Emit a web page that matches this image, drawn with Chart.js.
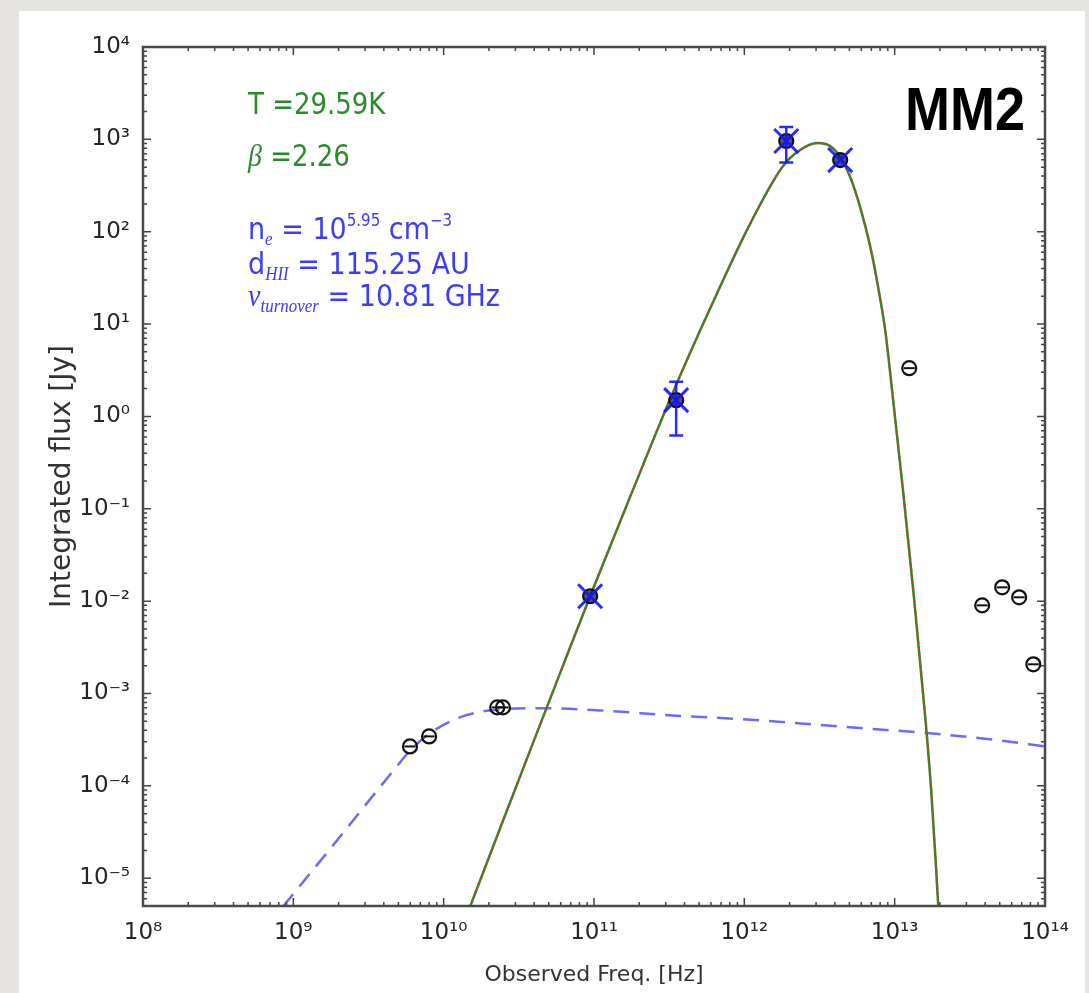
<!DOCTYPE html>
<html>
<head>
<meta charset="utf-8">
<script src="https://cdn.jsdelivr.net/npm/chart.js@4.4.1/dist/chart.umd.min.js"></script>
<style>
html, body { margin: 0; padding: 0; background: #e4e3df; }
#panel { position: absolute; left: 19px; top: 11px; width: 1066px; height: 982px; background: #fff; }
#sed { position: absolute; left: 0; top: 0; }
</style>
</head>
<body>
<div id="panel"></div>
<canvas id="sed" width="1089" height="993"></canvas>
<script>
// observed fluxes not used in the fit (black circles)
const freqObs = [5.97e9, 8.0e9, 2.27e10, 2.48e10, 1.25e13, 3.82e13, 5.19e13, 6.73e13, 8.36e13];
const fluxObs = [2.67e-4, 3.43e-4, 7.07e-4, 7.07e-4, 3.33, 9.0e-3, 1.41e-2, 1.10e-2, 2.07e-3];

// fluxes used in the greybody fit (blue crosses) and their errors
const freqFit = [9.43e10, 3.52e11, 1.90e12, 4.34e12];
const fluxFit = [1.13e-2, 1.50, 960, 597];
const errFit = [0, 0.88, 400, 0];

// greybody model
const freqGrey = [1.50e10, 2.37e10, 3.76e10, 5.94e10, 9.42e10, 1.74e11, 3.52e11, 6.59e11, 1.09e12,
  1.81e12, 2.35e12, 3.05e12, 3.72e12, 4.34e12, 5.06e12, 5.89e12, 6.87e12, 7.66e12, 8.65e12,
  9.77e12, 1.14e13, 1.35e13, 1.60e13, 1.75e13, 1.89e13, 1.95e13];
const fluxGrey = [4.93e-6, 3.45e-5, 2.42e-4, 1.65e-3, 1.13e-2, 0.135, 2.2, 21.6, 121,
  514, 766, 912, 845, 643, 391, 185, 69.8, 28.4, 8.59,
  1.50, 0.151, 1.02e-2, 5.37e-4, 8.91e-5, 1.21e-5, 4.93e-6];

// free-free (HII region) model
const freqFF = [8.53e8, 2.05e9, 4.75e9, 5.97e9, 8.13e9, 1.23e10, 1.75e10, 2.51e10, 3.59e10, 4.88e10,
  1.10e11, 3.36e11, 1.27e12, 5.06e12, 1.72e13, 5.04e13, 1.0e14];
const fluxFF = [4.93e-6, 2.83e-5, 1.54e-4, 2.40e-4, 3.72e-4, 5.37e-4, 6.31e-4, 6.76e-4, 6.92e-4, 6.92e-4,
  6.56e-4, 5.79e-4, 5.12e-4, 4.30e-4, 3.70e-4, 3.10e-4, 2.67e-4];

const xMin = 1e8, xMax = 1e14;
const yMin = 5e-6, yMax = 1e4;

const pts = (xs, ys) => xs.map((x, i) => ({x: x, y: ys[i]}));

const SUP = {'0':'⁰','1':'¹','2':'²','3':'³','4':'⁴','5':'⁵','6':'⁶','7':'⁷','8':'⁸','9':'⁹','-':'⁻'};
function isDecade(v) {
  const l = Math.log10(v);
  return Math.abs(l - Math.round(l)) < 1e-9;
}
function decadeLabel(v) {
  if (!isDecade(v)) return '';
  return '10' + String(Math.round(Math.log10(v))).split('').map(c => SUP[c]).join('');
}
function logTicks(min, max) {
  const out = [];
  for (let e = Math.floor(Math.log10(min)); e <= Math.ceil(Math.log10(max)); e++) {
    for (let m = 1; m <= 9; m++) {
      const v = m * Math.pow(10, e);
      if (v >= min * 0.9999 && v <= max * 1.0001) out.push({value: v, major: m === 1});
    }
  }
  return out;
}

// frame and inward ticks on all four sides, like matplotlib classic
const framePlugin = {
  id: 'frame',
  afterDraw(chart) {
    const {ctx, chartArea: a, scales: {x, y}} = chart;
    ctx.save();
    ctx.strokeStyle = '#444';
    ctx.lineWidth = 1.5;
    ctx.beginPath();
    x.ticks.forEach(t => {
      const px = x.getPixelForValue(t.value);
      const len = t.major ? 8 : 4;
      ctx.moveTo(px, a.bottom); ctx.lineTo(px, a.bottom - len);
      ctx.moveTo(px, a.top); ctx.lineTo(px, a.top + len);
    });
    y.ticks.forEach(t => {
      const py = y.getPixelForValue(t.value);
      const len = t.major ? 8 : 4;
      ctx.moveTo(a.left, py); ctx.lineTo(a.left + len, py);
      ctx.moveTo(a.right, py); ctx.lineTo(a.right - len, py);
    });
    ctx.stroke();
    ctx.strokeStyle = '#4a4a4a';
    ctx.lineWidth = 2.5;
    ctx.strokeRect(a.left, a.top, a.right - a.left, a.bottom - a.top);
    ctx.restore();
  }
};

// vertical error bars on the fitted points
const errorBarPlugin = {
  id: 'errbars',
  afterDatasetsDraw(chart) {
    const {ctx, scales: {x, y}} = chart;
    ctx.save();
    ctx.strokeStyle = 'rgba(20,20,255,0.9)';
    ctx.lineWidth = 2.5;
    freqFit.forEach((f, i) => {
      if (!errFit[i]) return;
      const px = x.getPixelForValue(f);
      const top = y.getPixelForValue(fluxFit[i] + errFit[i]);
      const bot = y.getPixelForValue(fluxFit[i] - errFit[i]);
      ctx.beginPath();
      ctx.moveTo(px, top); ctx.lineTo(px, bot);
      ctx.moveTo(px - 7, top); ctx.lineTo(px + 7, top);
      ctx.moveTo(px - 7, bot); ctx.lineTo(px + 7, bot);
      ctx.stroke();
    });
    ctx.restore();
  }
};

// text runs on one baseline, slightly stretched upward like the source image
function drawRuns(ctx, x, y, runs, color, sy) {
  ctx.save();
  ctx.translate(x, y);
  ctx.scale(1, sy);
  ctx.fillStyle = color;
  ctx.textAlign = 'left';
  ctx.textBaseline = 'alphabetic';
  let dx = 0;
  runs.forEach(r => {
    ctx.font = r.f;
    ctx.fillText(r.t, dx, r.dy || 0);
    dx += ctx.measureText(r.t).width;
  });
  ctx.restore();
}

const textPlugin = {
  id: 'notes',
  afterDraw(chart) {
    const ctx = chart.ctx;
    const main = '26px "DejaVu Sans"';
    const blue = '27px "DejaVu Sans"';
    const mathIt = 'italic 28px "Liberation Serif"';
    const subIt = 'italic 17px "Liberation Serif"';
    const sup = '15px "DejaVu Sans"';
    const green = '#2b8a2b', bl = '#3d3df2';
    drawRuns(ctx, 248, 114, [{t: 'T =29.59K', f: main}], green, 1.15);
    drawRuns(ctx, 248, 166, [{t: 'β', f: mathIt}, {t: ' =2.26', f: main}], green, 1.15);
    drawRuns(ctx, 248, 239, [
      {t: 'n', f: blue}, {t: 'e', f: subIt, dy: 5}, {t: ' = 10', f: blue},
      {t: '5.95', f: sup, dy: -12}, {t: ' cm', f: blue}, {t: '−3', f: sup, dy: -12}
    ], bl, 1.12);
    drawRuns(ctx, 248, 274, [
      {t: 'd', f: blue}, {t: 'HII', f: subIt, dy: 5}, {t: ' = 115.25 AU', f: blue}
    ], bl, 1.12);
    drawRuns(ctx, 248, 306, [
      {t: 'ν', f: mathIt}, {t: 'turnover', f: subIt, dy: 5}, {t: ' = 10.81 GHz', f: blue}
    ], bl, 1.12);
    drawRuns(ctx, 905, 130, [{t: 'MM2', f: 'bold 54px "Liberation Sans"'}], '#000', 1.13);
  }
};

const ctx = document.getElementById('sed').getContext('2d');

new Chart(ctx, {
  type: 'scatter',
  data: {
    datasets: [
      {
        label: 'fit points',
        data: pts(freqFit, fluxFit),
        pointStyle: 'crossRot',
        pointRadius: 17,
        borderWidth: 3,
        borderColor: 'rgba(20,20,255,0.9)'
      },
      {
        label: 'fit circles',
        data: pts(freqFit, fluxFit),
        pointStyle: 'circle',
        pointRadius: 7,
        borderWidth: 2.2,
        borderColor: '#111',
        backgroundColor: 'rgba(10,10,60,0.7)'
      },
      {
        label: 'obs bars',
        data: pts(freqObs, fluxObs),
        pointStyle: 'line',
        pointRadius: 5.5,
        borderWidth: 2,
        borderColor: '#111'
      },
      {
        label: 'obs',
        data: pts(freqObs, fluxObs),
        pointStyle: 'circle',
        pointRadius: 7,
        borderWidth: 2.2,
        borderColor: '#111',
        backgroundColor: 'rgba(255,255,255,0)'
      },
      {
        label: 'greybody dotted',
        data: pts(freqGrey, fluxGrey),
        showLine: true,
        pointRadius: 0,
        borderColor: 'rgba(255,40,40,0.8)',
        borderWidth: 2.2,
        borderDash: [2, 4],
        cubicInterpolationMode: 'monotone'
      },
      {
        label: 'greybody',
        data: pts(freqGrey, fluxGrey),
        showLine: true,
        pointRadius: 0,
        borderColor: '#2a8a2a',
        borderWidth: 2.5,
        cubicInterpolationMode: 'monotone'
      },
      {
        label: 'free-free',
        data: pts(freqFF, fluxFF),
        showLine: true,
        pointRadius: 0,
        borderColor: 'rgba(70,70,245,0.8)',
        borderWidth: 2.5,
        borderDash: [16, 10],
        cubicInterpolationMode: 'monotone'
      }
    ]
  },
  options: {
    responsive: false,
    animation: false,
    devicePixelRatio: 1,
    layout: { padding: { left: 0, top: 47, right: 44, bottom: 0 } },
    plugins: { legend: { display: false }, tooltip: { enabled: false } },
    scales: {
      x: {
        type: 'logarithmic',
        min: xMin,
        max: xMax,
        afterBuildTicks: s => { s.ticks = logTicks(xMin, xMax); },
        afterFit: s => { s.height = 87; },
        grid: { display: false, drawTicks: false },
        border: { display: false },
        ticks: {
          autoSkip: false,
          maxRotation: 0,
          padding: 13,
          color: '#262626',
          font: { family: 'DejaVu Sans', size: 23 },
          callback: v => decadeLabel(v)
        },
        title: {
          display: true,
          text: 'Observed Freq. [Hz]',
          color: '#333',
          font: { family: 'DejaVu Sans', size: 22 },
          padding: { top: 0, bottom: 5 }
        }
      },
      y: {
        type: 'logarithmic',
        min: yMin,
        max: yMax,
        afterBuildTicks: s => { s.ticks = logTicks(yMin, yMax); },
        afterFit: s => { s.width = 143; },
        grid: { display: false, drawTicks: false },
        border: { display: false },
        ticks: {
          autoSkip: false,
          padding: 13,
          color: '#262626',
          font: { family: 'DejaVu Sans', size: 23 },
          callback: v => decadeLabel(v)
        },
        title: {
          display: true,
          text: 'Integrated flux [Jy]',
          color: '#333',
          font: { family: 'DejaVu Sans', size: 28 },
          padding: { top: 46, bottom: 0 }
        }
      }
    }
  },
  plugins: [errorBarPlugin, framePlugin, textPlugin]
});
</script>
</body>
</html>
